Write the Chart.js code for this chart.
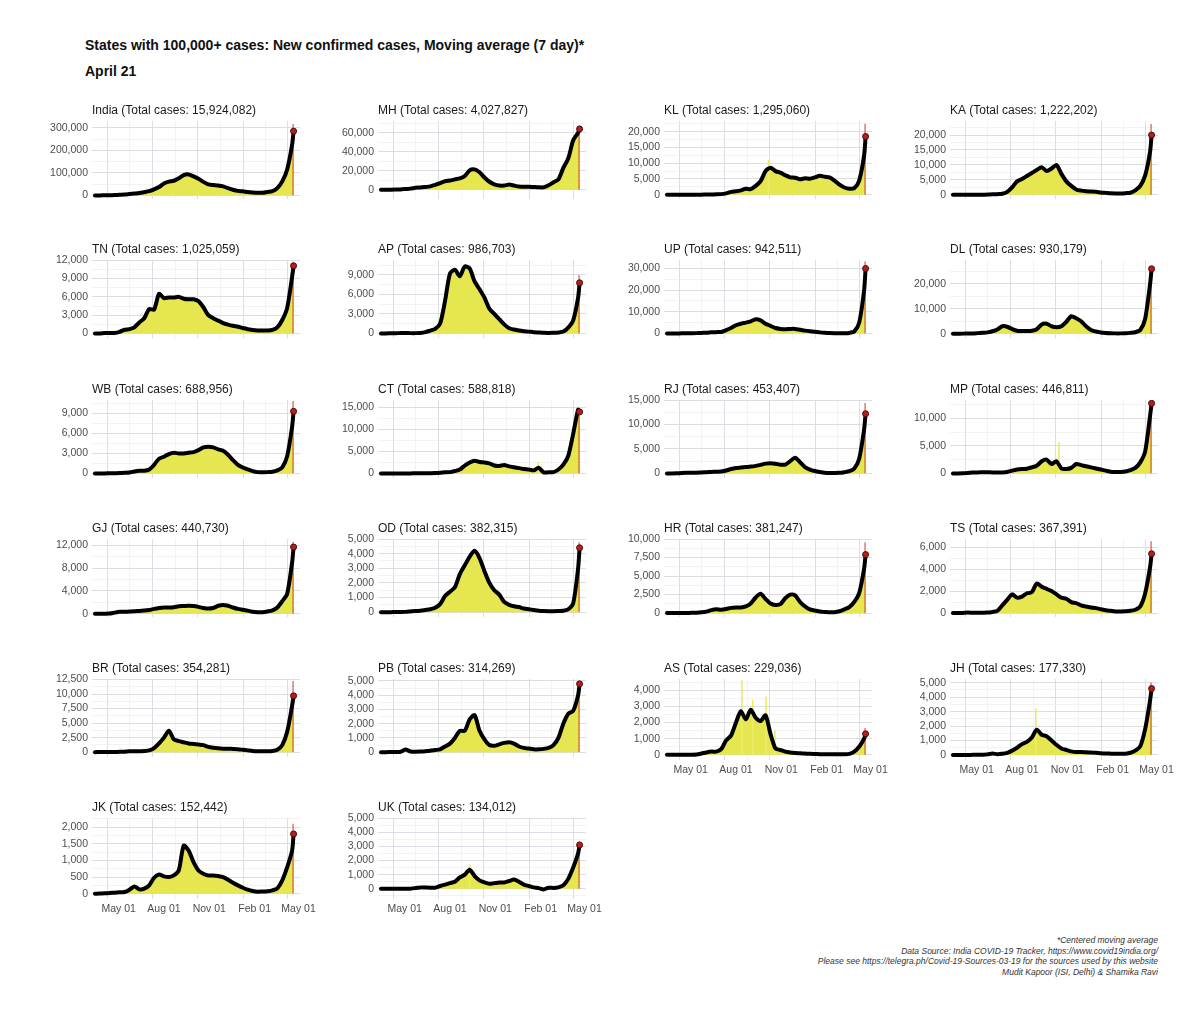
<!DOCTYPE html>
<html>
<head>
<meta charset="utf-8">
<script src="https://cdn.jsdelivr.net/npm/chart.js@4.4.1/dist/chart.umd.min.js"></script>
<style>
  html, body { margin: 0; padding: 0; background: #ffffff; }
  body { width: 1200px; height: 1014px; position: relative; overflow: hidden;
         font-family: 'Liberation Sans', Arial, sans-serif; }
  .t1 { position: absolute; left: 85px; top: 37px; font-weight: bold; font-size: 14px;
        line-height: 17px; color: #111; white-space: nowrap; }
  .t2 { position: absolute; left: 85px; top: 63px; font-weight: bold; font-size: 14px;
        line-height: 17px; color: #111; white-space: nowrap; }
  .foot { position: absolute; right: 42px; top: 935px; font-style: italic; font-size: 8.5px;
          line-height: 10.6px; color: #333; text-align: right; white-space: nowrap; }
  canvas.pc { position: absolute; }
</style>
</head>
<body>
<div class="t1">States with 100,000+ cases: New confirmed cases, Moving average (7 day)*</div>
<div class="t2">April 21</div>
<div class="foot">*Centered moving average<br>Data Source: India COVID-19 Tracker, https://www.covid19india.org/<br>Please see https://telegra.ph/Covid-19-Sources-03-19 for the sources used by this website<br>Mudit Kapoor (ISI, Delhi) &amp; Shamika Ravi</div>
<script>
// ---- x positions: days since 14 Mar 2020 ----
const DAYS = [0,10,20,30,40,50,60,70,80,90,100,110,120,130,140,150,160,170,180,190,200,
              210,220,230,240,250,260,270,280,290,300,310,320,330,340,350,360,370,380,390,400,403];
const X_TICK_DAYS = [48, 140, 232, 324, 413];
const X_TICK_LABELS = ['May 01', 'Aug 01', 'Nov 01', 'Feb 01', 'May 01'];
const X_MINOR_DAYS = [2, 94, 186, 278, 369];

const STATES = ['India','MH','KL','KA','TN','AP','UP','DL','WB','CT','RJ','MP',
                'GJ','OD','HR','TS','BR','PB','AS','JH','JK','UK'];
const TOTALS = [15924082,4027827,1295060,1222202,1025059,986703,942511,930179,688956,588818,453407,446811,
                440730,382315,381247,367391,354281,314269,229036,177330,152442,134012];

// ---- 7-day moving averages (one value per DAYS entry) ----
const IN_MA = [10,70,350,900,1500,2600,3700,6000,8200,10500,14500,19000,27000,37000,53000,61000,65000,76000,90000,93000,
  84000,74000,60000,49000,46000,44000,40000,32000,25000,20000,18000,15000,13000,11500,11500,15000,18500,32000,62000,115000,225000,285000];
const MH_MA = [5,15,60,250,500,900,1300,2300,2400,3000,3700,5300,7000,9000,9800,11000,12000,14500,20500,21500,
  18500,13000,8500,5800,4500,4500,5500,4500,3500,3200,3300,3000,2700,2700,4800,8000,11000,23000,33000,52000,60000,64000];
const KL_MA = [2,10,20,10,5,3,5,30,70,90,130,200,450,900,1100,1400,1900,1800,2800,4300,
  7500,8600,7500,7000,6200,5500,5400,4900,5200,5100,5500,6000,5700,5500,4500,3200,2300,1900,2100,4500,12500,18500];
const KA_MA = [1,5,8,15,12,20,40,90,150,220,350,1000,2500,4500,5300,6300,7300,8300,9200,8000,
  8800,10000,7000,4500,3000,1800,1400,1200,1100,1000,800,650,500,450,450,550,700,1500,3000,6500,14500,20000];
const TN_MA = [1,3,70,60,60,250,600,700,1000,1800,2500,4000,3900,6500,5800,5900,5900,6000,5700,5600,
  5600,5300,4300,3000,2500,2100,1700,1450,1250,1100,900,700,580,500,470,480,580,1000,2200,4200,9300,11100];
const AP_MA = [0,2,40,40,60,60,50,50,80,200,450,700,1500,5000,9200,9800,8800,10300,10000,8000,
  6800,5500,3800,3000,2200,1400,800,600,450,350,280,200,150,100,80,100,150,300,900,2000,5500,7800];
const UP_MA = [1,5,20,50,100,120,150,250,300,500,600,700,1500,2500,3800,4500,5000,5600,6500,6000,
  4500,3500,2500,2100,1900,2100,2100,1700,1300,1000,800,500,300,180,120,110,130,250,900,5000,20000,30000];
const DL_MA = [1,5,50,90,100,250,400,550,1000,1700,3000,2800,1900,1200,1100,1100,1200,1800,3700,4000,
  3000,2600,3000,4800,7000,6200,5000,3000,1500,900,500,300,200,150,150,200,350,600,1500,6000,20000,26000];
const WB_MA = [0,1,10,20,40,60,100,150,300,400,400,600,1300,2200,2500,2900,3100,3000,3000,3100,
  3200,3500,3900,4000,3900,3600,3400,2800,2000,1300,900,600,350,200,170,200,250,450,900,2600,7000,9300];
const CT_MA = [0,0,2,2,5,5,10,20,40,50,50,80,150,250,300,550,900,1800,2500,2900,
  2600,2500,2300,1800,1700,1900,1600,1400,1200,1000,900,700,1300,250,250,300,900,2000,4000,9000,14500,14000];
const RJ_MA = [1,3,20,80,120,130,150,200,250,300,350,400,600,900,1100,1200,1300,1400,1550,1750,
  2000,2100,2000,1800,1800,2500,3200,2300,1300,800,500,300,150,100,100,120,250,450,1000,3000,9000,12200];
const MP_MA = [0,2,30,80,150,180,200,200,180,170,180,250,500,700,800,850,1100,1400,2200,2500,
  1700,2200,900,800,1000,1700,1500,1300,1100,900,700,500,300,250,250,350,600,1000,2000,4000,10500,12700];
const GJ_MA = [0,2,10,50,200,330,350,380,420,500,550,650,850,1000,1100,1100,1150,1300,1350,1400,
  1350,1200,1000,900,1000,1400,1550,1400,1100,850,700,550,350,280,260,400,600,1100,2200,3500,9000,11700];
const OD_MA = [0,0,2,5,10,20,50,80,100,150,200,300,550,1100,1400,1700,2600,3200,3800,4200,
  3700,2800,2000,1500,1200,700,500,400,350,250,200,150,100,80,70,70,80,100,200,600,3000,4400];
const HR_MA = [0,2,5,15,20,30,50,100,200,400,500,450,550,700,750,750,900,1300,2100,2600,
  1900,1300,1100,1200,2000,2500,2400,1500,900,500,350,200,150,100,120,250,500,800,1500,2700,6000,7900];
const TS_MA = [0,2,15,40,20,20,30,40,100,200,700,1200,1700,1400,1500,1800,1900,2700,2400,2200,
  2000,1700,1400,1300,1000,900,700,600,500,450,350,250,200,150,150,160,200,300,600,1800,4200,5400];
const BR_MA = [0,1,5,10,20,50,80,150,150,150,200,300,700,1500,2500,3700,2200,1900,1700,1500,
  1400,1300,1200,900,750,650,600,600,550,500,400,300,200,150,130,150,200,400,1200,3500,8000,9700];
const PB_MA = [0,1,5,10,30,180,50,30,40,60,100,150,200,400,600,1000,1500,1500,2300,2600,
  1500,900,500,450,550,650,700,600,400,300,250,200,200,230,300,500,1000,2000,2700,2900,4000,4800];
const AS_MA = [0,0,2,3,2,5,20,80,150,200,200,350,900,1200,2000,2700,2200,2800,2300,2100,
  2450,1300,400,300,200,150,120,100,80,60,50,40,35,30,30,30,40,60,200,500,1000,1300];
const JH_MA = [0,0,2,3,5,10,20,40,100,50,80,150,300,500,750,900,1200,1750,1400,1300,
  1000,700,450,350,250,200,200,180,170,150,120,100,90,80,80,90,150,300,600,1800,3800,4600];
const JK_MA = [0,2,10,20,30,40,50,120,220,130,150,250,480,580,520,500,550,700,1450,1300,
  950,700,600,550,550,530,500,420,330,250,180,120,80,60,65,75,100,160,400,800,1300,1800];
const UK_MA = [0,0,2,3,5,5,10,50,100,90,80,80,200,300,400,500,800,1000,1350,900,
  600,450,350,400,450,450,550,650,500,300,200,100,50,-50,80,60,100,250,700,1500,2500,3100];

const MA = [IN_MA,MH_MA,KL_MA,KA_MA,TN_MA,AP_MA,UP_MA,DL_MA,WB_MA,CT_MA,RJ_MA,MP_MA,
            GJ_MA,OD_MA,HR_MA,TS_MA,BR_MA,PB_MA,AS_MA,JH_MA,JK_MA,UK_MA];

// new cases reported on the last day (21 Apr 2021)
const LAST_DAILY = [315000,67000,22400,23600,11700,8900,33100,24600,10800,13900,14300,12900,
                    12500,4750,9500,6500,12200,4900,1650,5000,2100,3300];

// isolated tall daily bars [day, cases]
const SPIKES = [[],[],[[205,11000]],[],[],[],[],[],[],[[318,2500]],[],[[214,5600]],
                [],[],[],[],[],[],[[151,4600],[173,3400],[200,3600],[218,1500]],[[167,3200]],[],[[179,1700]]];

const Y_TICKS = [
  [0,100000,200000,300000],[0,20000,40000,60000],[0,5000,10000,15000,20000],[0,5000,10000,15000,20000],
  [0,3000,6000,9000,12000],[0,3000,6000,9000],[0,10000,20000,30000],[0,10000,20000],
  [0,3000,6000,9000],[0,5000,10000,15000],[0,5000,10000,15000],[0,5000,10000],
  [0,4000,8000,12000],[0,1000,2000,3000,4000,5000],[0,2500,5000,7500,10000],[0,2000,4000,6000],
  [0,2500,5000,7500,10000,12500],[0,1000,2000,3000,4000,5000],[0,1000,2000,3000,4000],[0,1000,2000,3000,4000,5000],
  [0,500,1000,1500,2000],[0,1000,2000,3000,4000,5000]
];
const Y_LIMITS = [
  [-16000,330000],[-9600,72300],[-1350,23400],[-1400,24700],
  [-750,12050],[-700,11300],[-2100,33900],[-1700,29500],
  [-680,11000],[-1040,16700],[-930,15000],[-830,13300],
  [-570,13100],[-330,5000],[-530,10000],[-360,6740],
  [-840,12600],[-340,5140],[-320,4700],[-350,5260],
  [-160,2280],[-720,5000]
];
const X_LIMITS = [-6, 416];

// ---- layout / style ----
const FONT = "'Liberation Sans', Arial, sans-serif";
const COL_LEFT = [92, 378, 664, 950];
const ROW_TOP = [121, 260, 400, 539, 679, 818];
const AREA_W = 208, AREA_H = 81, YAXIS_W = 46, PAD_R = 20, TOP_BLOCK = 20, PAD_B = 2, XAXIS_H = 22;
const YELLOW = '#e6e650';
const SPIKE_YELLOW = '#ecec6a';
const RED_BAR = 'rgba(196,56,34,0.6)';
const GRID_MAJOR = '#d9d9e1';
const GRID_MINOR = '#ebebf0';

Chart.defaults.font.family = FONT;
Chart.defaults.animation = false;

const fmt = v => Math.round(v).toLocaleString('en-US');

STATES.forEach((st, i) => {
  const col = i % 4, row = Math.floor(i / 4);
  const bottom = i >= 18;
  const cv = document.createElement('canvas');
  cv.className = 'pc';
  const cw = YAXIS_W + AREA_W + PAD_R;
  const ch = TOP_BLOCK + AREA_H + (bottom ? XAXIS_H : 0) + PAD_B;
  cv.width = cw; cv.height = ch;
  cv.style.width = cw + 'px'; cv.style.height = ch + 'px';
  cv.style.left = (COL_LEFT[col] - YAXIS_W) + 'px';
  cv.style.top = (ROW_TOP[row] - TOP_BLOCK) + 'px';
  document.body.appendChild(cv);

  const pts = DAYS.map((d, k) => ({ x: d, y: MA[i][k] }));
  const majors = Y_TICKS[i];
  const [ymin, ymax] = Y_LIMITS[i];
  const step = majors[1] - majors[0];
  const minors = [];
  for (let k = 0; k < majors.length - 1; k++) minors.push((majors[k] + majors[k + 1]) / 2);
  if (majors[0] - step / 2 >= ymin) minors.push(majors[0] - step / 2);
  if (majors[majors.length - 1] + step / 2 <= ymax) minors.push(majors[majors.length - 1] + step / 2);
  const ySet = new Set(majors);
  const yAll = majors.concat(minors).sort((a, b) => a - b);
  const xSet = new Set(X_TICK_DAYS);
  const xAll = X_TICK_DAYS.concat(X_MINOR_DAYS).sort((a, b) => a - b);
  const last = pts.length - 1;

  new Chart(cv, {
    type: 'line',
    data: {
      datasets: [
        { type: 'line', data: pts, fill: 'origin', backgroundColor: YELLOW, borderWidth: 0,
          pointRadius: 0, tension: 0.25, order: 4 },
        { type: 'bar', data: SPIKES[i].map(s => ({ x: s[0], y: s[1] })), backgroundColor: SPIKE_YELLOW,
          barThickness: 1, order: 3 },
        { type: 'bar', data: [{ x: DAYS[last], y: LAST_DAILY[i] }], backgroundColor: RED_BAR,
          barThickness: 1, order: 2 },
        { type: 'line', data: pts, borderColor: '#000000', borderWidth: 4, fill: false, tension: 0.25,
          borderCapStyle: 'round', borderJoinStyle: 'round',
          pointRadius: c => (c.dataIndex === last ? 3 : 0),
          pointBackgroundColor: '#b3201b', pointBorderColor: '#4d0a08', pointBorderWidth: 1, order: 1 }
      ]
    },
    options: {
      responsive: false,
      devicePixelRatio: 1,
      animation: false,
      events: [],
      layout: { padding: { left: 0, right: PAD_R, top: 2, bottom: PAD_B } },
      plugins: {
        legend: { display: false },
        tooltip: { enabled: false },
        title: {
          display: true, text: st + ' (Total cases: ' + fmt(TOTALS[i]) + ')', align: 'start',
          fullSize: false, color: '#1a1a1a', font: { size: 12, family: FONT, weight: 'normal' },
          padding: { top: 0, bottom: 3.6 }
        }
      },
      scales: {
        x: {
          type: 'linear', min: X_LIMITS[0], max: X_LIMITS[1], offset: false,
          border: { display: false },
          grid: {
            drawTicks: false,
            color: c => (c.tick && xSet.has(c.tick.value)) ? GRID_MAJOR : GRID_MINOR,
            lineWidth: c => (c.tick && xSet.has(c.tick.value)) ? 0.9 : 0.6
          },
          ticks: {
            display: bottom, autoSkip: false, maxRotation: 0, padding: 4, color: '#4d4d4d',
            font: { size: 10.5 },
            callback: v => { const k = X_TICK_DAYS.indexOf(v); return k >= 0 ? X_TICK_LABELS[k] : ''; }
          },
          afterBuildTicks: s => { s.ticks = xAll.map(v => ({ value: v })); },
          afterFit: s => { s.height = bottom ? XAXIS_H : 0; s.paddingLeft = 0; s.paddingRight = 0; }
        },
        y: {
          type: 'linear', min: ymin, max: ymax,
          border: { display: false },
          grid: {
            drawTicks: false,
            color: c => (c.tick && ySet.has(c.tick.value)) ? GRID_MAJOR : GRID_MINOR,
            lineWidth: c => (c.tick && ySet.has(c.tick.value)) ? 0.9 : 0.6
          },
          ticks: {
            autoSkip: false, padding: 4, color: '#4d4d4d', font: { size: 10.5 },
            callback: v => ySet.has(v) ? fmt(v) : ''
          },
          afterBuildTicks: s => { s.ticks = yAll.map(v => ({ value: v })); },
          afterFit: s => { s.width = YAXIS_W; s.paddingTop = 0; s.paddingBottom = 0; }
        }
      }
    }
  });
});
</script>
</body>
</html>
